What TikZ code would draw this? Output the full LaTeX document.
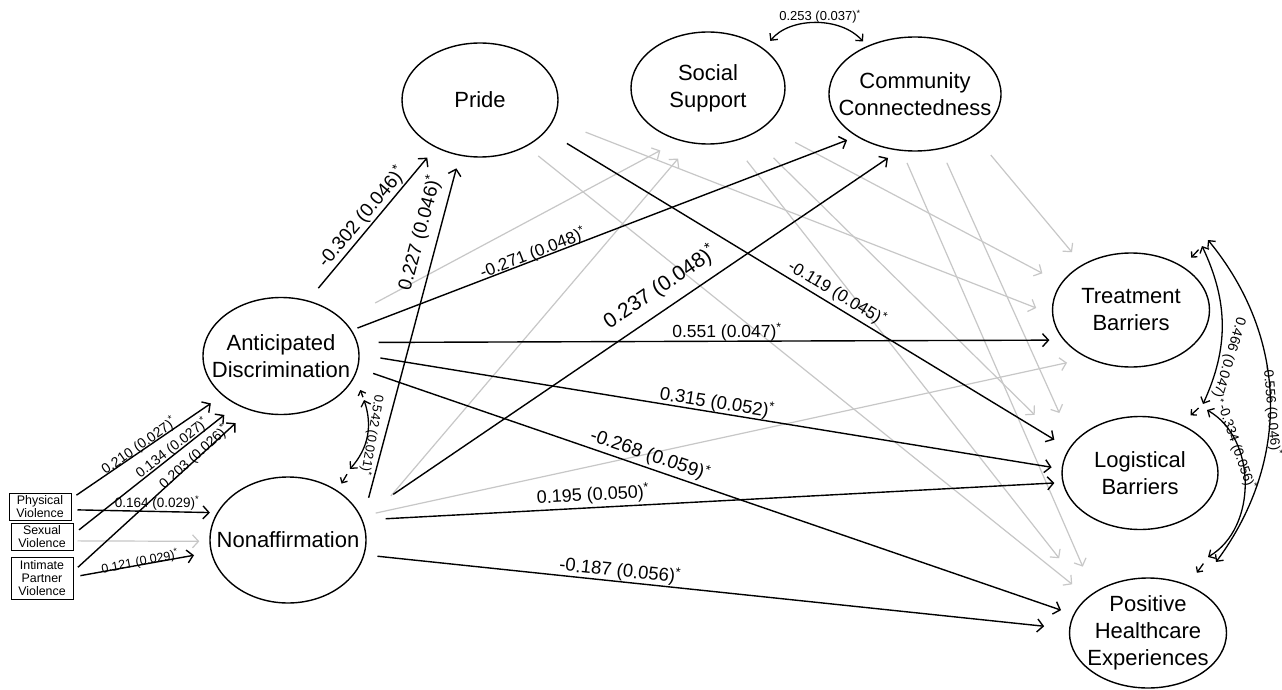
\documentclass[tikz,border=0pt]{standalone}
\usepackage{fontspec}
\setmainfont{Liberation Sans}
\usetikzlibrary{arrows.meta,shapes.geometric}
\begin{document}
\begin{tikzpicture}[x=1pt,y=-1pt,
  lat/.style={ellipse, draw, line width=1.4pt, inner sep=-40pt, align=center,
              font=\fontsize{22pt}{27pt}\selectfont},
  obs/.style={rectangle, draw, line width=1pt, inner sep=1pt, align=center,
              minimum width=62pt, font=\fontsize{12.4pt}{13pt}\selectfont},
  eff/.style={-{Straight Barb[length=6pt,width=13pt]}, line width=1.4pt},
  ns/.style={eff, draw=black!22, line width=1.2pt},
  cov/.style={{Straight Barb[length=5pt,width=10pt]}-{Straight Barb[length=5pt,width=10pt]}, line width=1.3pt},
  res/.style={-{Straight Barb[length=4pt,width=8pt]}, line width=1.3pt},
  lab/.style={inner sep=0pt, font=\fontsize{#1pt}{#1pt}\selectfont},
]
\fill[white] (0,0) rectangle (1282,690);
\useasboundingbox (0,0) rectangle (1282,690);

% latent variables
\node[lat, minimum width=156pt, minimum height=117pt] (ad) at (281,356) {Anticipated\\Discrimination};
\node[lat, minimum width=156pt, minimum height=126pt] (na) at (288,540) {Nonaffirmation};
\node[lat, minimum width=156pt, minimum height=114pt] (pr) at (480,100) {Pride};
\node[lat, minimum width=154pt, minimum height=112pt] (ss) at (708,88) {Social\\Support};
\node[lat, minimum width=172pt, minimum height=114pt] (cc) at (915,94) {Community\\Connectedness};
\node[lat, minimum width=157pt, minimum height=114pt] (tb) at (1131,310) {Treatment\\Barriers};
\node[lat, minimum width=156pt, minimum height=113pt] (lb) at (1140,473) {Logistical\\Barriers};
\node[lat, minimum width=157pt, minimum height=110pt] (phe) at (1148,633) {Positive\\Healthcare\\Experiences};

% observed violence indicators
\node[obs, minimum height=27pt] (pv) at (40,507) {Physical\\Violence};
\node[obs, minimum height=27pt] (sv) at (42,537) {Sexual\\Violence};
\node[obs, minimum height=42pt] (ipv) at (42,578) {Intimate\\Partner\\Violence};

% non-significant paths
\draw[ns, shorten <=4pt, shorten >=10pt] (sv.-7) -- (na.181);
\draw[ns, shorten <=36pt, shorten >=21pt] (ad.30) -- (ss.241);
\draw[ns, shorten <=40pt, shorten >=20pt] (na.10) -- (ss.253);
\draw[ns, shorten <=15pt, shorten >=21pt] (na.18) -- (tb.228);
\draw[ns, shorten <=34pt, shorten >=17pt] (pr.-15) -- (tb.183);
\draw[ns, shorten <=15pt, shorten >=20pt] (pr.-45) -- (phe.149);
\draw[ns, shorten <=34pt, shorten >=21pt] (ss.-34) -- (tb.159);
\draw[ns, shorten <=32pt, shorten >=48pt] (ss.-48) -- (lb.161);
\draw[ns, shorten <=24pt, shorten >=48pt] (ss.-66) -- (phe.148);
\draw[ns, shorten <=25pt, shorten >=16pt] (cc.-35) -- (tb.137);
\draw[ns, shorten <=15pt, shorten >=33pt] (cc.-65) -- (lb.156);
\draw[ns, shorten <=13pt, shorten >=28pt] (cc.-103) -- (phe.143);

% significant paths
\draw[eff, shorten <=6pt, shorten >=14pt] (pv.15) -- (ad.214);
\draw[eff, shorten <=7pt, shorten >=16pt] (sv.5) -- (ad.228);
\draw[eff, shorten <=6pt, shorten >=19pt] (ipv.12) -- (ad.240);
\draw[eff, shorten <=6pt, shorten >=7pt] (pv.-5) -- (na.159);
\draw[eff, shorten <=7pt, shorten >=17pt] (ipv.2) -- (na.189);
\draw[eff, shorten <=16pt, shorten >=13pt] (ad.64) -- (pr.227);
\draw[eff, shorten <=23pt, shorten >=13pt] (na.15) -- (pr.250);
\draw[eff, shorten <=6pt, shorten >=10pt] (ad.20) -- (cc.216);
\draw[eff, shorten <=39pt, shorten >=13pt] (na.18) -- (cc.254);
\draw[eff, shorten <=24pt, shorten >=17pt] (pr.-25) -- (lb.161);
\draw[eff, shorten <=21pt, shorten >=14pt] (ad.10) -- (tb.204);
\draw[eff, shorten <=21pt, shorten >=10pt] (ad.1) -- (lb.177);
\draw[eff, shorten <=16pt, shorten >=13pt] (ad.-9) -- (phe.166);
\draw[eff, shorten <=23pt, shorten >=8pt] (na.15) -- (lb.187);
\draw[eff, shorten <=13pt, shorten >=25pt] (na.-11) -- (phe.177);

% covariances and their residual ticks
\coordinate (adP) at (364,400);
\coordinate (naP) at (350,469);
\draw[cov] (adP) to[bend left=30] (naP);
\draw[res, shorten <=3pt, shorten >=15pt] (adP) -- (ad.-15);
\draw[res, shorten <=6pt, shorten >=8pt] (naP) -- (na.45);

\draw[cov, shorten <=10pt, shorten >=6pt] (ss.35) to[bend left=50] (cc.135);

\coordinate (tbA) at (1202,246);
\coordinate (tbB) at (1208,240);
\coordinate (lbA) at (1203,404);
\coordinate (lbB) at (1207,410);
\coordinate (phA) at (1208,557);
\coordinate (phB) at (1216,562);
\draw[cov] (tbA) to[bend left=25] (lbA);
\draw[cov] (lbB) to[bend left=60] (phA);
\draw[cov] (tbB) to[bend left=38] (phB);
\draw[res, shorten <=5pt, shorten >=12pt] (tbA) -- (tb.40);
\draw[res, shorten <=6pt, shorten >=13pt] (lbA) -- (lb.50);
\draw[res, shorten <=8pt, shorten >=15pt] (phA) -- (phe.50);

% coefficient labels
\node[lab=14, rotate=35] (l1) at (139,446) {0.210 (0.027)\textsuperscript{*}};
\node[lab=14, rotate=38] (l2) at (172,448) {0.134 (0.027)\textsuperscript{*}};
\node[lab=14, rotate=42] (l3) at (194,457) {0.203 (0.026)\textsuperscript{*}};
\node[lab=13.5] (l4) at (157,503) {0.164 (0.029)\textsuperscript{*}};
\node[lab=12.5, rotate=11] (l5) at (140,562) {0.121 (0.029)\textsuperscript{*}};
\node[lab=19, rotate=50] (l6) at (362,217) {-0.302 (0.046)\textsuperscript{*}};
\node[lab=19, rotate=75] (l7) at (420,233) {0.227 (0.046)\textsuperscript{*}};
\node[lab=17, rotate=21] (l8) at (533,253) {-0.271 (0.048)\textsuperscript{*}};
\node[lab=21, rotate=34] (l9) at (660,287) {0.237 (0.048)\textsuperscript{*}};
\node[lab=17, rotate=-31] (l10) at (837,293) {-0.119 (0.045)\textsuperscript{*}};
\node[lab=17.5] (l11) at (727,332) {0.551 (0.047)\textsuperscript{*}};
\node[lab=18.5, rotate=-9] (l12) at (717,403) {0.315 (0.052)\textsuperscript{*}};
\node[lab=19, rotate=-19] (l13) at (650,455) {-0.268 (0.059)\textsuperscript{*}};
\node[lab=18, rotate=3] (l14) at (593,495) {0.195 (0.050)\textsuperscript{*}};
\node[lab=18.5, rotate=-6] (l15) at (620,571) {-0.187 (0.056)\textsuperscript{*}};
\node[lab=13, rotate=-100] (l16) at (372,435) {0.542 (0.021)\textsuperscript{*}};
\node[lab=13] (l17) at (820,17) {0.253 (0.037)\textsuperscript{*}};
\node[lab=14, rotate=-107] (l18) at (1229,360) {0.466 (0.047)\textsuperscript{*}};
\node[lab=13.5, rotate=-71] (l19) at (1237,447) {-0.334 (0.056)\textsuperscript{*}};
\node[lab=13.5, rotate=-85] (l20) at (1272,410) {-0.556 (0.046)\textsuperscript{*}};
\end{tikzpicture}
\end{document}
